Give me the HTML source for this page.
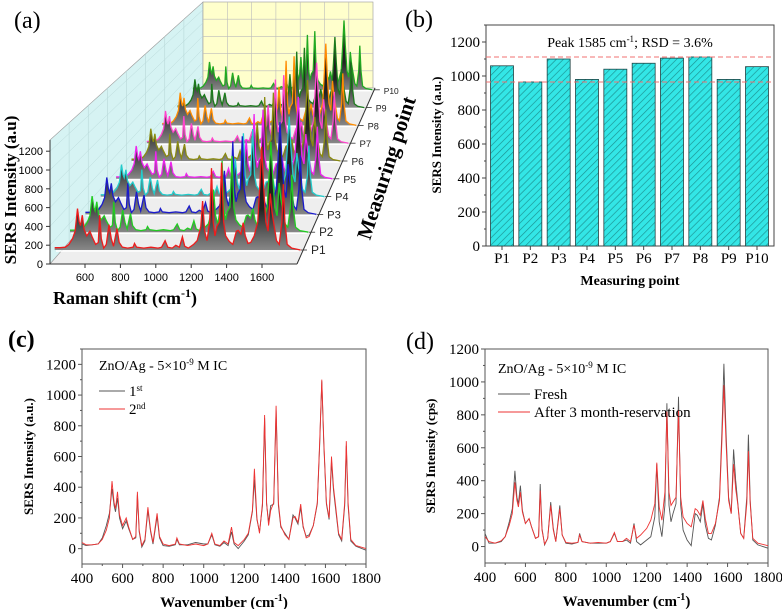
<!DOCTYPE html>
<html><head><meta charset="utf-8"><style>
html,body{margin:0;padding:0;background:#fff}
svg{display:block;font-family:"Liberation Serif",serif}
.sans{font-family:"Liberation Sans",sans-serif}
</style></head><body>
<svg id="fig" width="782" height="609" viewBox="0 0 782 609" xmlns="http://www.w3.org/2000/svg">
<defs>
<pattern id="hatch" patternUnits="userSpaceOnUse" width="5" height="5" patternTransform="rotate(45)">
<rect width="5" height="5" fill="#33e6e6"/><line x1="0" y1="0" x2="0" y2="5" stroke="#1c8f8f" stroke-width="1.3"/>
</pattern>
<linearGradient id="dark" x1="0" y1="0" x2="0" y2="1"><stop offset="0" stop-color="#111"/><stop offset="0.6" stop-color="#222"/><stop offset="1" stop-color="#888"/></linearGradient>
</defs>
<g id="pa"></g>
<g id="pb"></g>
<g id="pc"></g>
<g id="pd"></g>
</svg>
<script>
// ---- data ----
const wn = [400,420,450,480,500,520,535,548,558,565,575,585,600,618,630,650,665,673,682,695,710,725,738,750,770,782,800,830,860,868,880,920,960,1000,1020,1040,1055,1080,1100,1120,1137,1150,1170,1200,1220,1240,1250,1262,1275,1290,1300,1310,1320,1330,1345,1357,1368,1380,1400,1420,1440,1450,1465,1478,1490,1505,1520,1540,1560,1572,1582,1592,1605,1618,1630,1640,1650,1665,1680,1695,1703,1712,1725,1750,1800];
const cSecond = [40,25,25,30,60,120,200,440,300,260,370,220,150,200,140,60,80,370,120,20,60,270,120,40,230,80,30,20,30,70,30,20,30,20,30,100,30,20,50,30,140,40,20,60,100,250,520,200,100,300,870,300,150,250,300,930,300,150,90,60,200,210,170,290,150,70,80,150,300,700,1100,700,300,200,600,400,280,100,60,300,700,300,60,20,0];
const cFirst = [30,20,25,30,70,150,230,390,280,240,330,200,130,180,130,60,70,350,110,10,50,250,110,30,210,70,20,15,25,60,25,25,40,30,30,90,25,15,40,20,110,30,0,50,90,240,450,190,110,280,850,290,170,280,290,900,280,140,100,60,220,200,160,270,140,80,90,150,290,680,1090,680,290,190,570,380,260,90,50,280,670,280,50,15,-10];
const dFresh = [80,20,20,30,60,150,230,460,300,260,370,220,140,170,120,50,60,380,110,10,50,270,110,30,250,70,20,15,25,80,30,20,20,20,30,80,30,30,40,20,140,30,10,40,60,180,500,150,60,250,870,250,150,200,260,910,250,100,40,5,200,190,150,260,130,50,40,130,300,700,1110,700,300,200,590,400,270,80,50,300,680,280,40,10,-10];
const dAfter = [60,30,20,35,60,130,200,390,280,240,330,210,140,170,120,50,60,340,100,15,50,250,100,30,230,70,25,20,25,70,30,20,25,20,30,85,30,30,50,30,130,50,70,110,160,260,510,240,160,330,820,330,250,270,300,830,300,180,140,120,230,220,190,280,170,80,80,140,280,640,980,640,280,200,500,350,260,80,50,260,580,260,50,20,5];
const barCats = ["P1","P2","P3","P4","P5","P6","P7","P8","P9","P10"];
const barVals = [1060,965,1100,980,1040,1075,1105,1112,980,1055];
const refLines = [1112,965];
const rowScale = [1.0,0.9,0.95,0.85,0.9,0.92,0.95,1.0,0.9,0.92];
const rowColors = ["#ee1c1c","#22cc22","#1a1acc","#22cccc","#ee22ee","#8a8a10","#ff44cc","#ff8c00","#1c7a1c","#22aa22"];
const axTicksC = [0,200,400,600,800,1000,1200];
const xTicks = [400,600,800,1000,1200,1400,1600,1800];
const aYTicks = [0,200,400,600,800,1000,1200];
const aXTicks = [600,800,1000,1200,1400,1600];

const NS="http://www.w3.org/2000/svg";
function mk(parent,tag,attrs,text){const e=document.createElementNS(NS,tag);for(const k in attrs)e.setAttribute(k,attrs[k]);if(text!==undefined)e.textContent=text;parent.appendChild(e);return e;}

// ---------- Panel A ----------
const pa=document.getElementById('pa');
let e;
e=mk(pa,'polygon',{points:"50,140 50,264 203,88 203,2",fill:"#d6f3f3",stroke:"#999","stroke-width":0.6});


e=mk(pa,'rect',{x:203,y:2,width:170,height:86,fill:"#ffffcc",stroke:"#999","stroke-width":0.6});


for(let i=1;i<7;i++){mk(pa,'line',{x1:203+i*24.3,y1:2,x2:203+i*24.3,y2:88,stroke:"#bbb","stroke-width":0.6});}
for(let i=1;i<5;i++){mk(pa,'line',{x1:203,y1:2+i*17.2,x2:373,y2:2+i*17.2,stroke:"#bbb","stroke-width":0.6});}
for(let i=1;i<8;i++){const t=i/8;mk(pa,'line',{x1:50+153*t,y1:140-138*t,x2:50+153*t,y2:264-176*t,stroke:"#b8d8d8","stroke-width":0.6});}
aYTicks.forEach(v=>{const y=264-v*0.094;mk(pa,'line',{x1:50,y1:y,x2:203,y2:y-(264-88)+(v*0.094)*(1-86/124),stroke:"#b8d8d8","stroke-width":0.5});});
e=mk(pa,'polygon',{points:"50,264 297,264 375,88 203,88",fill:"#eeeeee",stroke:"#999","stroke-width":0.6});


for(let i=9;i>=0;i--){
  const x0=60+i*15.2, y0=250-i*17.8, w=237-i*(64/9), s=w/237;
  const xm=v=>x0+(v-450)/(1780-450)*w;
  const ym=I=>y0-Math.max(I,0)*0.094*s*rowScale[i];
  let d=`M${xm(wn[1])},${y0}`;
  let l='';
  for(let k=1;k<wn.length;k++){const px=xm(wn[k]),py=ym(cSecond[k]);d+=` L${px.toFixed(1)},${py.toFixed(1)}`;l+=(k===1?'M':' L')+px.toFixed(1)+','+py.toFixed(1);}
  d+=` L${xm(wn[wn.length-1])},${y0} Z`;
  mk(pa,'line',{x1:x0-4,y1:y0+1,x2:x0+w+2,y2:y0+1,stroke:"#fff","stroke-width":1.5});
  const f=mk(pa,'path',{d:d,fill:"url(#dark)"});
  
  
  const ln=mk(pa,'path',{d:l,fill:"none",stroke:rowColors[i],"stroke-width":1.3});
  
  
  const lbX=x0+w+14, lbY=y0+3;
  mk(pa,'line',{x1:x0+w+4,y1:y0,x2:x0+w+10,y2:y0,stroke:"#333","stroke-width":0.8});
  const t=mk(pa,'text',{x:lbX,y:lbY+1,"font-size":(12-i*0.4),class:"sans",fill:"#222"},barCats[i]);
  
  
}
mk(pa,'line',{x1:50,y1:140,x2:50,y2:264,stroke:"#333","stroke-width":1});
mk(pa,'line',{x1:50,y1:264,x2:297,y2:264,stroke:"#333","stroke-width":1});
mk(pa,'line',{x1:297,y1:264,x2:375,y2:88,stroke:"#333","stroke-width":1});
aYTicks.forEach(v=>{const y=264-v*0.094;mk(pa,'line',{x1:46,y1:y,x2:50,y2:y,stroke:"#333"});const t=mk(pa,'text',{x:43,y:y+4,"text-anchor":"end","font-size":11,class:"sans"},v);});
aXTicks.forEach(v=>{const x=85+(v-600)*0.177;mk(pa,'line',{x1:x,y1:264,x2:x,y2:268,stroke:"#333"});const t=mk(pa,'text',{x:x,y:281,"text-anchor":"middle","font-size":11,class:"sans"},v);});
e=mk(pa,'text',{x:14,y:28,"font-size":24},"(a)");
e=mk(pa,'text',{x:0,y:0,"font-size":17,"font-weight":"bold","text-anchor":"middle",transform:"translate(16,190) rotate(-90)"},"SERS Intensity (a.u)");
e=mk(pa,'text',{x:125,y:304,"font-size":18,"font-weight":"bold","text-anchor":"middle"});e.innerHTML='Raman shift (cm<tspan dy="-7" font-size="12">-1</tspan><tspan dy="7">)</tspan>';
e=mk(pa,'text',{x:0,y:0,"font-size":21,"font-weight":"bold","text-anchor":"middle",transform:"translate(393,170) rotate(-72)"},"Measuring point");

// ---------- Panel B ----------
const pb=document.getElementById('pb');
const bL=486,bR=774,bT=25,bB=246;
const bx=i=>502+i*(757-502)/9;
const by=v=>bB-v*(bB-bT)/1300;
mk(pb,'rect',{x:bL,y:bT,width:bR-bL,height:bB-bT,fill:"#fff",stroke:"#444","stroke-width":1});
barVals.forEach((v,i)=>{const r=mk(pb,'rect',{x:bx(i)-11.5,y:by(v),width:23,height:bB-by(v),fill:"url(#hatch)",stroke:"#244","stroke-width":0.8});
 const t=mk(pb,'text',{x:bx(i),y:bB+17,"font-size":15,"text-anchor":"middle"},barCats[i]);
 mk(pb,'line',{x1:bx(i),y1:bB,x2:bx(i),y2:bB+4,stroke:"#444"});});
refLines.forEach(v=>{const l=mk(pb,'line',{x1:bL,y1:by(v),x2:bR,y2:by(v),stroke:"#f07070","stroke-width":1,"stroke-dasharray":"5,3"});});
axTicksC.forEach(v=>{mk(pb,'line',{x1:bL-4,y1:by(v),x2:bL,y2:by(v),stroke:"#444"});mk(pb,'line',{x1:bL-2,y1:by(v+100),x2:bL,y2:by(v+100),stroke:"#444"});const t=mk(pb,'text',{x:bL-6,y:by(v)+5,"font-size":15,"text-anchor":"end"},v);});
e=mk(pb,'text',{x:405,y:27,"font-size":24},"(b)");
e=mk(pb,'text',{x:630,y:47,"font-size":14,"text-anchor":"middle"});e.innerHTML='Peak 1585 cm<tspan dy="-5" font-size="9">-1</tspan><tspan dy="5">; RSD = 3.6%</tspan>';
e=mk(pb,'text',{x:0,y:0,"font-size":13,"font-weight":"bold","text-anchor":"middle",transform:"translate(441,135) rotate(-90)"},"SERS Intensity (a.u.)");
e=mk(pb,'text',{x:630,y:285,"font-size":14,"font-weight":"bold","text-anchor":"middle"},"Measuring point");

// ---------- Spectra panels ----------
function spectra(g,L,R,T,B,ymin,ymax,series,cols,names,yTicks,label,labelX,labelY,labelBold,ytitle,ytitleX,leg){
  const xs=v=>L+(v-400)*(R-L)/1400, ys=v=>B-(v-ymin)*(B-T)/(ymax-ymin);
  mk(g,'rect',{x:L,y:T,width:R-L,height:B-T,fill:"#fff",stroke:"#555","stroke-width":1});
  series.forEach((s,j)=>{let d='';wn.forEach((w,k)=>{d+=(k?' L':'M')+xs(w).toFixed(1)+','+ys(s[k]).toFixed(1);});const p=mk(g,'path',{d:d,fill:"none",stroke:cols[j],"stroke-width":0.9});});
  xTicks.forEach(v=>{mk(g,'line',{x1:xs(v),y1:B,x2:xs(v),y2:B+4,stroke:"#555"});if(v<1800)mk(g,'line',{x1:xs(v+100),y1:B,x2:xs(v+100),y2:B+2,stroke:"#555"});const t=mk(g,'text',{x:xs(v),y:B+19,"font-size":15,"text-anchor":"middle"},v);});
  yTicks.forEach(v=>{mk(g,'line',{x1:L-4,y1:ys(v),x2:L,y2:ys(v),stroke:"#555"});if(v+100<=ymax)mk(g,'line',{x1:L-2,y1:ys(v+100),x2:L,y2:ys(v+100),stroke:"#555"});const t=mk(g,'text',{x:L-6,y:ys(v)+5,"font-size":15,"text-anchor":"end"},v);});
  let t=mk(g,'text',{x:labelX,y:labelY,"font-size":24,"font-weight":labelBold?"bold":"normal"},label);
  t=mk(g,'text',{x:(L+R)/2,y:B+43,"font-size":15,"font-weight":"bold","text-anchor":"middle"});t.innerHTML='Wavenumber (cm<tspan dy="-6" font-size="10">-1</tspan><tspan dy="6">)</tspan>';
  t=mk(g,'text',{x:0,y:0,"font-size":13,"font-weight":"bold","text-anchor":"middle",transform:`translate(${ytitleX},${(T+B)/2}) rotate(-90)`},ytitle);
  t=mk(g,'text',{x:leg.x,y:leg.y,"font-size":14});t.innerHTML='ZnO/Ag - 5×10<tspan dy="-5" font-size="9">-9</tspan><tspan dy="5"> M IC</tspan>';
  leg.items.forEach((it,j)=>{const yy=leg.y+21+j*18;mk(g,'line',{x1:leg.x,y1:yy,x2:leg.x+leg.lw,y2:yy,stroke:cols[j],"stroke-width":1});const tt=mk(g,'text',{x:leg.x+leg.lw+4,y:yy+5,"font-size":15});tt.innerHTML=it;});
}
spectra(document.getElementById('pc'),82,366,349,564,-100,1300,[cFirst,cSecond],["#555","#ee3333"],["series-1st","series-2nd"],axTicksC,"(c)",8,347,true,"SERS Intensity (a.u.)",33,
 {x:99,y:370,lw:26,items:['1<tspan dy="-5" font-size="9">st</tspan>','2<tspan dy="-5" font-size="9">nd</tspan>']});
spectra(document.getElementById('pd'),485,768,349,563,-100,1200,[dFresh,dAfter],["#555","#ee3333"],["series-fresh","series-after-3-months"],axTicksC,"(d)",406,349,false,"SERS Intensity (cps)",435,
 {x:498,y:373,lw:32,items:['Fresh','After 3 month-reservation']});
</script>
</body></html>
